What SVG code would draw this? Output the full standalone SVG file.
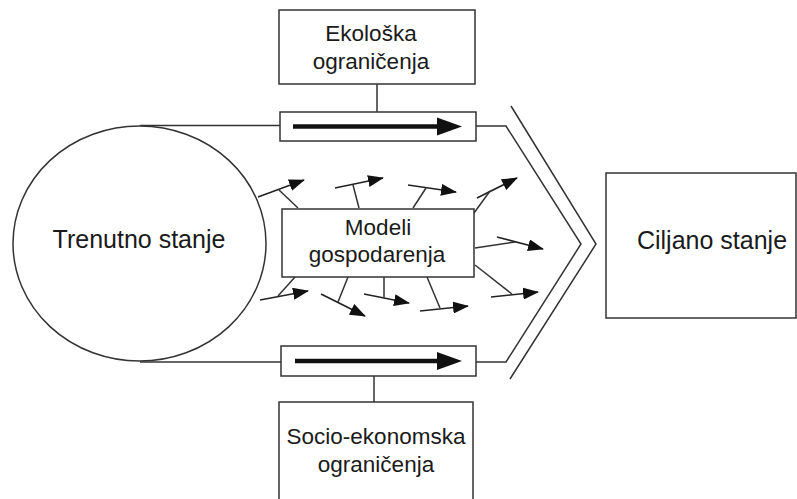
<svg xmlns="http://www.w3.org/2000/svg" width="797" height="499" viewBox="0 0 797 499">
<defs>
<style>
.box{fill:#fff;stroke:#333;stroke-width:1.5}
.ln{fill:none;stroke:#333;stroke-width:1.5}
.ar{fill:none;stroke:#222;stroke-width:1.6;marker-end:url(#ah)}
.t{font-family:"Liberation Sans",Arial,sans-serif;fill:#1a1a1a;text-anchor:middle}
.big{font-size:25px}
.sm{font-size:22.5px}
.thick{fill:none;stroke:#111;stroke-width:4.5}
</style>
<marker id="ah" markerUnits="userSpaceOnUse" markerWidth="16" markerHeight="12" viewBox="0 0 16 12" refX="15" refY="6" orient="auto">
<path d="M0,0 L16,6 L0,12 Z" fill="#111"/>
</marker>
<marker id="bh" markerUnits="userSpaceOnUse" markerWidth="26" markerHeight="20" viewBox="0 0 26 20" refX="25" refY="10" orient="auto">
<path d="M0,0 L26,10 L0,20 Z" fill="#111"/>
</marker>
</defs>
<rect width="797" height="499" fill="#fff"/>

<g id="connectors">
<path class="ln" d="M140,125.5 H280"/>
<path class="ln" d="M140,362 H281"/>
<path class="ln" d="M377,84 V112"/>
<path class="ln" d="M374,376 V402"/>
<path class="ln" d="M476,126 H506 L581,244 L506,362 H476"/>
<path class="ln" d="M511,106 L596,244 L510,379"/>
<!-- fishbone arrows -->
<path class="ar" d="M258,197 L304,180"/>
<path class="ln" d="M298,208 L279,190"/>
<path class="ar" d="M335,188 L383,178"/>
<path class="ln" d="M359,208 L353,185"/>
<path class="ar" d="M408,185 L456,192"/>
<path class="ln" d="M413,208 L426,188"/>
<path class="ar" d="M477,198 L517,178"/>
<path class="ln" d="M474,213 L490,191"/>
<path class="ar" d="M497,237 L543,249"/>
<path class="ln" d="M475,248 L515,242"/>
<path class="ar" d="M491,297 L538,292"/>
<path class="ln" d="M475,265 L512,294"/>
<path class="ar" d="M420,311 L468,306"/>
<path class="ln" d="M427,277 L440,308"/>
<path class="ar" d="M260,300 L308,291"/>
<path class="ln" d="M295,277 L278,296"/>
<path class="ar" d="M321,294 L365,316"/>
<path class="ln" d="M348,277 L338,302"/>
<path class="ar" d="M364,294 L409,303"/>
<path class="ln" d="M384,277 L384,298"/>
</g>

<g id="trenutno">
<ellipse class="box" cx="139.5" cy="243.5" rx="126.5" ry="117.5"/>
<text class="t big" x="139" y="248">Trenutno stanje</text>
</g>

<g id="ekoloska">
<rect class="box" x="279" y="10" width="196" height="74"/>
<text class="t sm" x="371" y="41">Ekološka</text>
<text class="t sm" x="371" y="69">ograničenja</text>
</g>

<g id="pipe-top">
<rect class="box" x="280" y="112" width="196" height="29"/>
<path class="thick" d="M293,126.5 H440" />
<path d="M437,117.5 L462,126.5 L437,135.5 Z" fill="#111"/>
</g>

<g id="modeli">
<rect class="box" x="282" y="209" width="192" height="68"/>
<text class="t sm" x="378" y="235">Modeli</text>
<text class="t sm" x="377" y="262">gospodarenja</text>
</g>

<g id="pipe-bottom">
<rect class="box" x="281" y="346" width="195" height="30"/>
<path class="thick" d="M295,361 H440"/>
<path d="M437,352 L462,361 L437,370 Z" fill="#111"/>
</g>

<g id="socio">
<rect class="box" x="279" y="402" width="194" height="120"/>
<text class="t sm" x="376" y="444">Socio-ekonomska</text>
<text class="t sm" x="376" y="472">ograničenja</text>
</g>

<g id="ciljano">
<rect class="box" x="606" y="173" width="190" height="145"/>
<text class="t big" x="712" y="249">Ciljano stanje</text>
</g>
</svg>
